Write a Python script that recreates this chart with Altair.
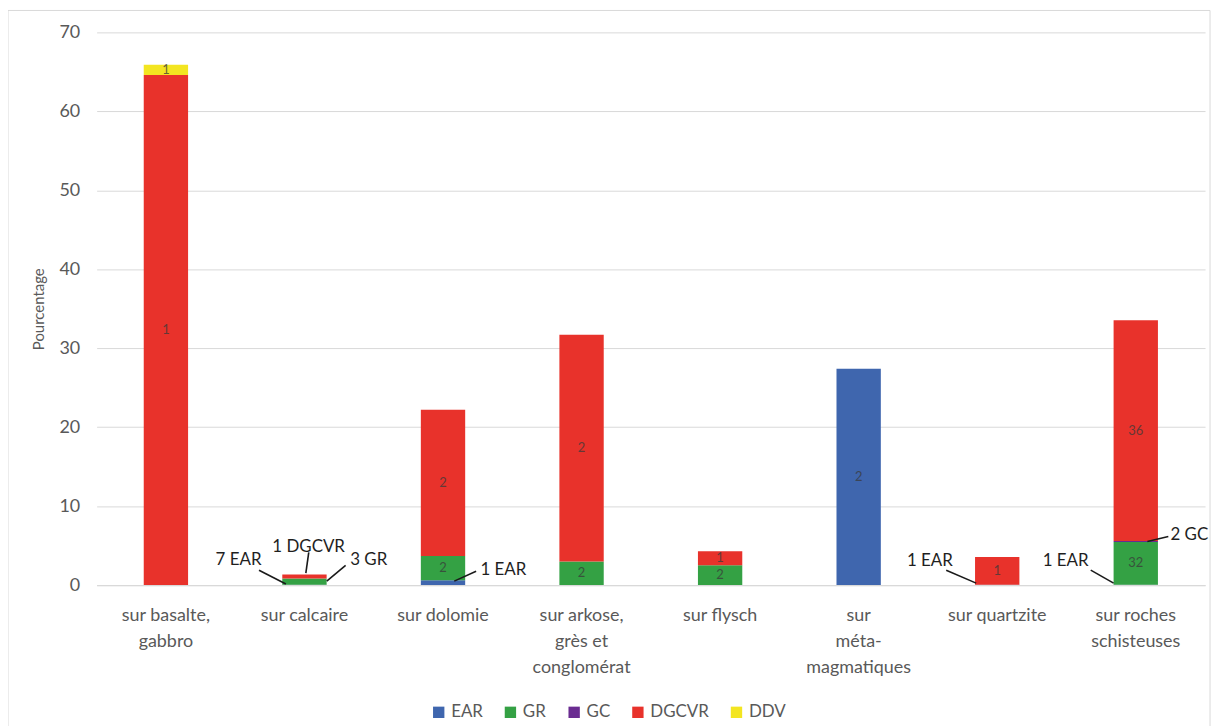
import altair as alt
import pandas as pd

categories = ["sur basalte,|gabbro", "sur calcaire", "sur dolomie",
              "sur arkose,|grès et|conglomérat", "sur flysch",
              "sur|méta-|magmatiques", "sur quartzite", "sur roches|schisteuses"]
series = ["EAR", "GR", "GC", "DGCVR", "DDV"]
colors = ["#3f66ae", "#34a144", "#6a2c91", "#e8322b", "#f3e521"]

ear = [0.0, 0.05, 0.6, 0.0, 0.0, 27.4, 0.05, 0.05]
gr = [0.0, 0.8, 3.1, 3.0, 2.5, 0.0, 0.0, 5.4]
gc = [0.0, 0.0, 0.0, 0.0, 0.0, 0.0, 0.0, 0.15]
dgcvr = [64.6, 0.5, 18.5, 28.7, 1.8, 0.0, 3.5, 27.95]
ddv = [1.3, 0.0, 0.0, 0.0, 0.0, 0.0, 0.0, 0.0]

ear_lab = ["", "", "", "", "", "2", "", ""]
gr_lab = ["", "", "2", "2", "2", "", "", "32"]
gc_lab = ["", "", "", "", "", "", "", ""]
dgcvr_lab = ["1", "", "2", "2", "1", "", "1", "36"]
ddv_lab = ["1", "", "", "", "", "", "", ""]

# callouts (text, anchor in data units; leader line in data units)
call_text = ["7 EAR", "1 DGCVR", "3 GR", "1 EAR", "1 EAR", "1 EAR", "2 GC"]
call_x = [1.19, 1.53, 1.83, 2.77, 6.18, 7.16, 7.75]
call_y = [3.14, 4.78, 3.14, 1.89, 3.02, 3.02, 6.28]
call_align = ["right", "center", "left", "left", "right", "right", "left"]
line_x1 = [1.172, 1.531, 1.797, 2.739, 6.132, 7.175, 7.584]
line_y1 = [1.89, 4.15, 2.51, 1.76, 1.89, 1.89, 5.53]
line_x2 = [1.366, 1.510, 1.661, 2.581, 6.348, 7.340, 7.735]
line_y2 = [0.13, 1.51, 0.50, 0.50, 0.25, 0.25, 6.16]

vals = [ear, gr, gc, dgcvr, ddv]
labs = [ear_lab, gr_lab, gc_lab, dgcvr_lab, ddv_lab]
rows = []
for si, s in enumerate(series):
    for ci, c in enumerate(categories):
        rows.append({"cat": c, "idx": ci + 0.5, "serie": s, "ord": si,
                     "value": vals[si][ci], "lab": labs[si][ci]})
df = pd.DataFrame(rows)

calls = pd.DataFrame({"text": call_text, "x": call_x, "y": call_y, "align": call_align,
                      "x1": line_x1, "y1": line_y1, "x2": line_x2, "y2": line_y2})

yscale = alt.Scale(domain=[0, 70], nice=False)
xlin = alt.Scale(domain=[0, 8], nice=False, zero=False)
FONT = "Lato"

frame = alt.Chart(pd.DataFrame({"a": [0]})).mark_rect(
    fill=None, stroke="#d9d9d9", strokeWidth=1
).encode(x=alt.value(-89), x2=alt.value(1118), y=alt.value(-22), y2=alt.value(720))

xenc = alt.X("cat:N", sort=categories, title=None,
             scale=alt.Scale(paddingInner=0.68, paddingOuter=0.34),
             axis=alt.Axis(labelExpr="split(datum.label, '|')", labelAngle=0,
                           labelFontSize=18, labelColor="#595959", labelFont=FONT,
                           labelLineHeight=26, ticks=False, labelPadding=22,
                           domainColor="#d9d9d9", domainWidth=1.2))

bars = alt.Chart(df).mark_bar().encode(
    x=xenc,
    y=alt.Y("value:Q", stack="zero", scale=yscale,
            axis=alt.Axis(values=[0, 10, 20, 30, 40, 50, 60, 70], grid=True,
                          gridColor="#d9d9d9", domain=False, ticks=False,
                          labelFontSize=18, labelColor="#595959", labelFont=FONT,
                          labelPadding=17, title="Pourcentage", titleFontSize=15,
                          titleFont=FONT, titleFontWeight="normal",
                          titleColor="#595959", titlePadding=12)),
    color=alt.Color("serie:N", scale=alt.Scale(domain=series, range=colors),
                    legend=alt.Legend(title=None, orient="none", direction="horizontal",
                                      legendX=335, legendY=674, symbolType="square",
                                      symbolSize=130, labelFontSize=17, labelFont=FONT,
                                      labelColor="#595959", columnPadding=19,
                                      symbolStrokeWidth=0)),
    order=alt.Order("ord:Q", sort="ascending"),
)

inner = alt.Chart(df).transform_stack(
    stack="value", groupby=["cat"], as_=["y0", "y1"],
    sort=[alt.SortField("ord", order="ascending")]
).transform_calculate(mid="(datum.y0 + datum.y1) / 2").transform_filter(
    "datum.lab != ''"
).mark_text(fontSize=13, font=FONT, color="#3a3a3a", opacity=0.75).encode(
    x=alt.X("idx:Q", scale=xlin, axis=None),
    y=alt.Y("mid:Q", scale=yscale),
    text="lab:N",
)

leaders = alt.Chart(calls).mark_rule(color="#1a1a1a", strokeWidth=1.6).encode(
    x=alt.X("x1:Q", scale=xlin, axis=None),
    x2="x2:Q",
    y=alt.Y("y1:Q", scale=yscale),
    y2="y2:Q",
)

def call_layer(al):
    return alt.Chart(calls).transform_filter(f"datum.align == '{al}'").mark_text(
        fontSize=17, font=FONT, color="#1f1f1f", align=al, baseline="middle"
    ).encode(
        x=alt.X("x:Q", scale=xlin, axis=None),
        y=alt.Y("y:Q", scale=yscale),
        text="text:N",
    )

over = alt.layer(inner, leaders, call_layer("left"), call_layer("right"),
                 call_layer("center"))

chart = alt.layer(frame, bars, over).resolve_scale(x="independent").properties(
    width=1113, height=555,
    padding={"left": 89, "top": 23, "right": 10, "bottom": 140},
    autosize=alt.AutoSizeParams(type="none"),
).configure_view(stroke=None)

chart.save("out.html", embed_options={"renderer": "svg", "actions": False})
